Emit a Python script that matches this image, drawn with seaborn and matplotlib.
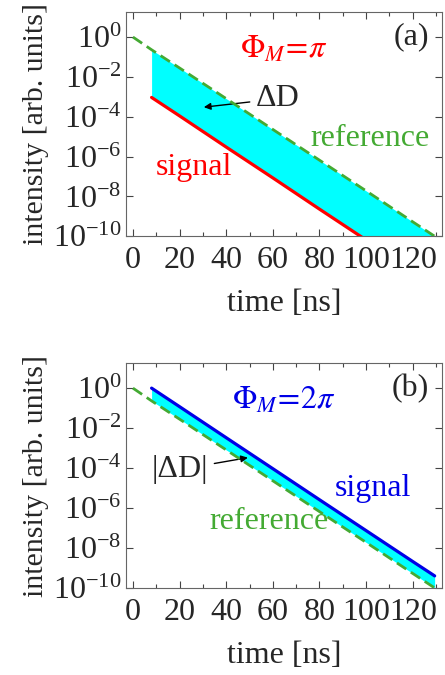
import numpy as np
import pandas as pd
import matplotlib
matplotlib.use("Agg")
import matplotlib.pyplot as plt
import matplotlib.ticker as ticker
import seaborn as sns

# values
t_ref = [0, 8, 20, 40, 60, 80, 100, 120, 129.4]
ref = [1.0, 2.3e-1, 2.8e-2, 8.1e-4, 2.3e-5, 6.6e-7, 1.9e-8, 5.3e-10, 1.0e-10]

t_sig = [8, 20, 40, 60, 80, 100, 120, 129.4]
sig_a = [9.3e-4, 1.1e-4, 3.0e-6, 8.5e-8, 2.3e-9, 6.5e-11, 1.8e-12, 3.4e-13]
sig_b = [1.0, 1.18e-1, 3.3e-3, 9.3e-5, 2.6e-6, 7.4e-8, 2.1e-9, 4.0e-10]

x_ticks = [0, 20, 40, 60, 80, 100, 120]
y_ticks = [1e0, 1e-2, 1e-4, 1e-6, 1e-8, 1e-10]

RED = "#ff0000"
BLUE = "#0000e6"
GREEN = "#44aa33"
CYAN = "#00ffff"

sns.set_style("ticks")
plt.rcParams["font.family"] = ["Liberation Serif", "DejaVu Serif"]
plt.rcParams["mathtext.fontset"] = "stix"
FS = 23

df_ref = pd.DataFrame({"t": t_ref, "I": ref})
df_a = pd.DataFrame({"t": t_sig, "I": sig_a})
df_b = pd.DataFrame({"t": t_sig, "I": sig_b})

fig = plt.figure(figsize=(4.45, 6.75), dpi=100)
ax_a = fig.add_axes([0.283, 0.650, 0.710, 0.332])
ax_b = fig.add_axes([0.283, 0.129, 0.710, 0.333])


def style_axes(ax):
    ax.set_yscale("log")
    ax.set_xlim(-3, 132.5)
    ax.set_ylim(1e-10, 10 ** 1.25)
    ax.set_xticks(x_ticks)
    ax.xaxis.set_minor_locator(ticker.MultipleLocator(10))
    ax.set_yticks(y_ticks)
    ax.yaxis.set_major_formatter(ticker.LogFormatterMathtext())
    ax.yaxis.set_minor_locator(ticker.NullLocator())
    ax.tick_params(which="both", direction="in", top=True, right=True,
                   color="#444444", width=0.8, labelsize=FS)
    ax.tick_params(axis="x", pad=7)
    ax.tick_params(axis="y", pad=3)
    ax.tick_params(which="major", length=5)
    ax.tick_params(which="minor", length=3)
    for s in ax.spines.values():
        s.set_color("#666666")
        s.set_linewidth(0.8)
    ax.set_xlabel("time [ns]", fontsize=FS, labelpad=10)
    ax.set_ylabel("intensity [arb. units]", fontsize=21.5, labelpad=3)


# panel (a)
ax = ax_a
ax.fill_between(t_sig, sig_a, ref[1:], color=CYAN, lw=0, zorder=1)
sns.lineplot(data=df_a, x="t", y="I", ax=ax, color=RED, lw=2.3, zorder=3)
sns.lineplot(data=df_ref, x="t", y="I", ax=ax, color=GREEN, lw=2.0,
             zorder=4).lines[-1].set_dashes([4, 2])
style_axes(ax)
ax.text(127, 1.0, "(a)", fontsize=FS, ha="right", va="center")
ax.text(64.7, 10 ** -0.65, r"$\Phi_M\!=\!\pi$", fontsize=FS, color=RED,
        ha="center", va="center")
ax.text(75.9, 10 ** -5.08, "reference", fontsize=FS, color=GREEN,
        ha="left", va="center")
ax.text(9.8, 10 ** -6.53, "signal", fontsize=FS, color=RED,
        ha="left", va="center")
ax.annotate("ΔD", xy=(30.4, 10 ** -3.52), xytext=(52.7, 10 ** -3.1),
            fontsize=FS, ha="left", va="center",
            arrowprops=dict(arrowstyle="-|>", color="black", lw=1.0,
                            mutation_scale=10, shrinkA=2, shrinkB=0))

# panel (b)
ax = ax_b
ax.fill_between(t_sig, ref[1:], sig_b, color=CYAN, lw=0, zorder=1)
sns.lineplot(data=df_b, x="t", y="I", ax=ax, color=BLUE, lw=2.3, zorder=3)
sns.lineplot(data=df_ref, x="t", y="I", ax=ax, color=GREEN, lw=2.0,
             zorder=4).lines[-1].set_dashes([4, 2])
style_axes(ax)
ax.text(127, 1.0, "(b)", fontsize=FS, ha="right", va="center")
ax.text(64.5, 10 ** -0.63, r"$\Phi_M\!=\!2\pi$", fontsize=FS, color=BLUE,
        ha="center", va="center")
ax.text(86.6, 10 ** -5.0, "signal", fontsize=FS, color=BLUE,
        ha="left", va="center")
ax.text(32.6, 10 ** -6.67, "reference", fontsize=FS, color=GREEN,
        ha="left", va="center")
ax.annotate("|ΔD|", xy=(49.3, 10 ** -3.48), xytext=(8.1, 10 ** -4.07),
            fontsize=FS, ha="left", va="center",
            arrowprops=dict(arrowstyle="-|>", color="black", lw=1.0,
                            mutation_scale=10, shrinkA=2, shrinkB=0))

fig.savefig("out.png", dpi=100)
